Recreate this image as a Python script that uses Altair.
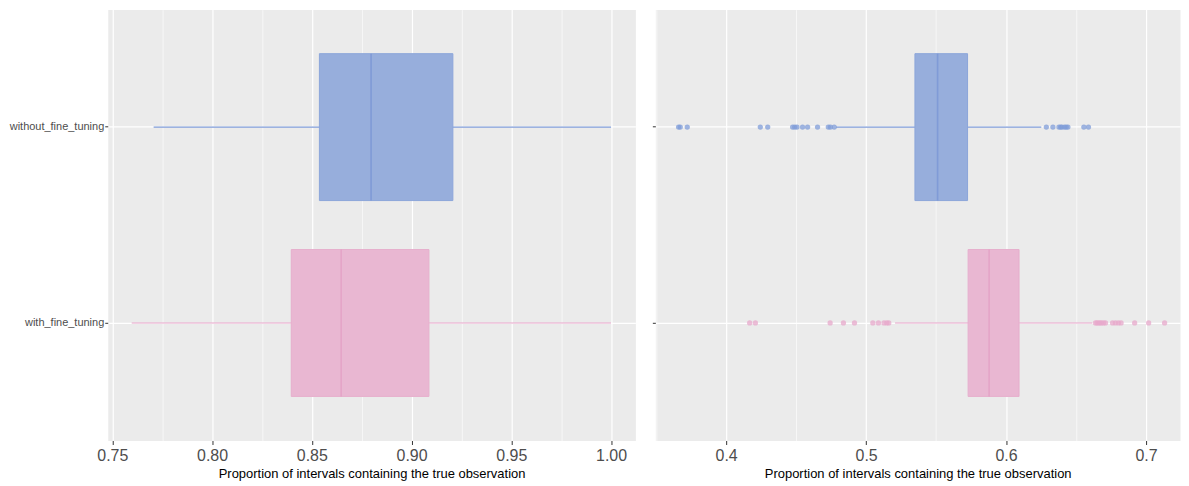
import altair as alt
import pandas as pd

groups = ["without_fine_tuning", "with_fine_tuning"]

# Left panel box statistics
left_lo = [0.7707, 0.7597]
left_q1 = [0.8538, 0.8397]
left_med = [0.8797, 0.8647]
left_q3 = [0.9207, 0.9087]
left_hi = [1.0, 1.0]

# Right panel box statistics
right_lo = [0.4785, 0.5207]
right_q1 = [0.5349, 0.5729]
right_med = [0.5511, 0.5879]
right_q3 = [0.5725, 0.6093]
right_hi = [0.6252, 0.6616]

# Right panel outliers
out_without = [0.3660, 0.3672, 0.3722, 0.4244, 0.4297, 0.4475, 0.4490, 0.4506,
               0.4546, 0.4582, 0.4653, 0.4730, 0.4745, 0.4772,
               0.6288, 0.6335, 0.6378, 0.6390, 0.6400, 0.6418, 0.6430, 0.6442,
               0.6556, 0.6589]
out_with = [0.4168, 0.4209, 0.4743, 0.4838, 0.4917, 0.5048, 0.5088, 0.5128,
            0.5148, 0.5162,
            0.6639, 0.6650, 0.6661, 0.6672, 0.6683, 0.6697, 0.6711, 0.6761,
            0.6782, 0.6803, 0.6822, 0.6919, 0.7019, 0.7133]

left_ticks = [0.75, 0.775, 0.80, 0.825, 0.85, 0.875, 0.90, 0.925, 0.95, 0.975, 1.00]
right_ticks = [0.35, 0.40, 0.45, 0.50, 0.55, 0.60, 0.65, 0.70]

fill_colors = ["#97AEDC", "#E9B7D2"]
stroke_colors = ["#8CA6DA", "#E6AFCD"]
line_colors = ["#7F9BD7", "#E5A2C7"]
median_colors = ["#7693D4", "#E29CC3"]
point_colors = ["#7F9CD8", "#E7A8CB"]

H = 432
STEP = H / 2.2
FONT = "Liberation Sans"

def stats_df(lo, q1, med, q3, hi):
    return pd.DataFrame({"group": groups, "lo": lo, "q1": q1, "med": med, "q3": q3, "hi": hi})

left_df = stats_df(left_lo, left_q1, left_med, left_q3, left_hi)
right_df = stats_df(right_lo, right_q1, right_med, right_q3, right_hi)
out_df = pd.DataFrame({
    "group": [groups[0]] * len(out_without) + [groups[1]] * len(out_with),
    "value": out_without + out_with,
})


def panel(df, odf, domain, width, ticks, major_test, fmt, show_labels):
    xaxis = alt.Axis(
        values=ticks,
        title="Proportion of intervals containing the true observation",
        titleFont=FONT, titleFontSize=13, titleFontWeight="normal", titleColor="#000000",
        titlePadding=4,
        labelFont=FONT, labelFontSize=16, labelColor="#4D4D4D", labelPadding=3,
        labelExpr=f"{major_test} ? format(datum.value, '{fmt}') : ''",
        tickColor="#333333", tickSize=4,
        tickOpacity={"condition": {"test": major_test, "value": 1}, "value": 0},
        grid=True, gridColor="#FFFFFF",
        gridWidth={"condition": {"test": major_test, "value": 1.2}, "value": 0.6},
        domain=False,
    )
    yaxis = alt.Axis(
        title=None, labels=show_labels, bandPosition=0.5,
        labelFont=FONT, labelFontSize=11, labelColor="#4D4D4D", labelPadding=1,
        tickColor="#333333", tickSize=3,
        grid=True, gridColor="#FFFFFF", gridWidth=1.2, domain=False,
    )
    xs = alt.Scale(domain=domain, nice=False, zero=False)
    ys = alt.Scale(domain=groups, paddingInner=0, paddingOuter=0.1)
    y = alt.Y("group:N", scale=ys, axis=yaxis, sort=groups)
    col_line = alt.Color("group:N", scale=alt.Scale(domain=groups, range=line_colors), legend=None)
    col_fill = alt.Fill("group:N", scale=alt.Scale(domain=groups, range=fill_colors), legend=None)
    col_stroke = alt.Stroke("group:N", scale=alt.Scale(domain=groups, range=stroke_colors), legend=None)

    base = alt.Chart(df)
    whisk = base.mark_rule(strokeWidth=1.1).encode(
        x=alt.X("lo:Q", scale=xs, axis=xaxis), x2="hi:Q", y=y, color=col_line)
    box = base.mark_bar(height=alt.RelativeBandSize(band=0.75), strokeWidth=1).encode(
        x=alt.X("q1:Q", scale=xs, axis=xaxis), x2="q3:Q", y=y, fill=col_fill, stroke=col_stroke)
    med = base.mark_tick(size=STEP * 0.75, thickness=1.6).encode(
        x=alt.X("med:Q", scale=xs, axis=xaxis), y=y,
        color=alt.Color("group:N", scale=alt.Scale(domain=groups, range=median_colors), legend=None))
    layers = [whisk, box, med]
    if odf is not None:
        pts = alt.Chart(odf).mark_circle(size=28, opacity=0.75).encode(
            x=alt.X("value:Q", scale=xs, axis=xaxis), y=y,
            color=alt.Color("group:N", scale=alt.Scale(domain=groups, range=point_colors), legend=None))
        layers.append(pts)
    return alt.layer(*layers).resolve_scale(color="independent").properties(width=width, height=H)


left = panel(left_df, None, [0.7477, 1.0122], 529, left_ticks,
             "round(datum.value*1000) % 50 == 0", ".2f", True)
rw = 526
right = panel(right_df, out_df, [0.3494, 0.3494 + rw / 1403.0], rw, right_ticks,
              "round(datum.value*100) % 10 == 0", ".1f", False)

chart = alt.hconcat(left, right, spacing=15).resolve_scale(
    x="independent", color="independent", fill="independent", stroke="independent"
).configure(padding=0, background="#FFFFFF").configure_view(fill="#EBEBEB", stroke="transparent")

chart.save("out.html", embed_options={"renderer": "svg", "actions": False})
